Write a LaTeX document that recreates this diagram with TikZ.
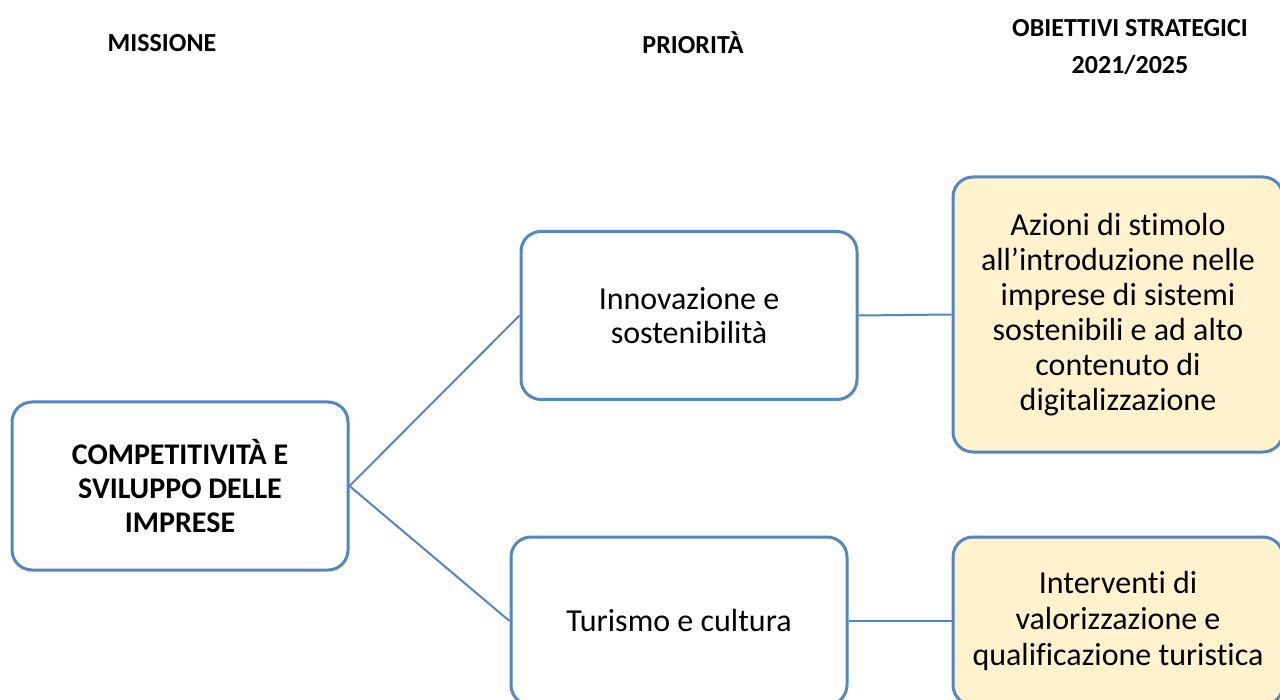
\documentclass[tikz,border=0pt]{standalone}
\usepackage{fontspec}
\setmainfont[Ligatures=NoCommon]{Carlito}
\definecolor{boxline}{RGB}{84,134,192}
\definecolor{goalfill}{RGB}{255,242,204}
\begin{document}
\begin{tikzpicture}
  [
    x=1pt, y=-1pt,
    head/.style={font=\fontsize{26}{37}\selectfont\bfseries, align=center},
    box/.style={draw=boxline, line width=3pt, rounded corners=20pt, fill=white,
      minimum width=336pt, minimum height=168pt, align=center,
      font=\fontsize{32}{34}\selectfont},
    goalbox/.style={box, fill=goalfill, minimum width=330pt,
      font=\fontsize{32}{35}\selectfont},
    link/.style={draw=boxline, line width=2pt}
  ]
  \useasboundingbox (0,0) rectangle (1280,700);
  \clip (0,0) rectangle (1280,700);
  \node[head] (hmiss) at (162,43) {MISSIONE};
  \node[head] (hprio) at (693,43) {PRIORITÀ};
  \node[head] (hobj) at (1130,47) {OBIETTIVI STRATEGICI\\2021/2025};
  \node[box, font=\fontsize{30}{34}\selectfont\bfseries] (mission) at (180,486)
    {COMPETITIVITÀ E\\SVILUPPO DELLE\\IMPRESE};
  \node[box] (innov) at (689,315.5) {Innovazione e\\sostenibilità};
  \node[box] (turismo) at (679,621) {Turismo e cultura};
  \node[goalbox, minimum height=275pt] (azioni) at (1118,314.5)
    {Azioni di stimolo\\all’introduzione nelle\\imprese di sistemi\\sostenibili e ad alto\\contenuto di\\digitalizzazione};
  \node[goalbox, font=\fontsize{32}{36}\selectfont] (interventi) at (1118,621)
    {Interventi di\\valorizzazione e\\qualificazione turistica};
  \draw[link] (mission.east) -- (innov.west);
  \draw[link] (mission.east) -- (turismo.west);
  \draw[link] (innov.east) -- (azioni.west);
  \draw[link] (turismo.east) -- (interventi.west);
\end{tikzpicture}
\end{document}
